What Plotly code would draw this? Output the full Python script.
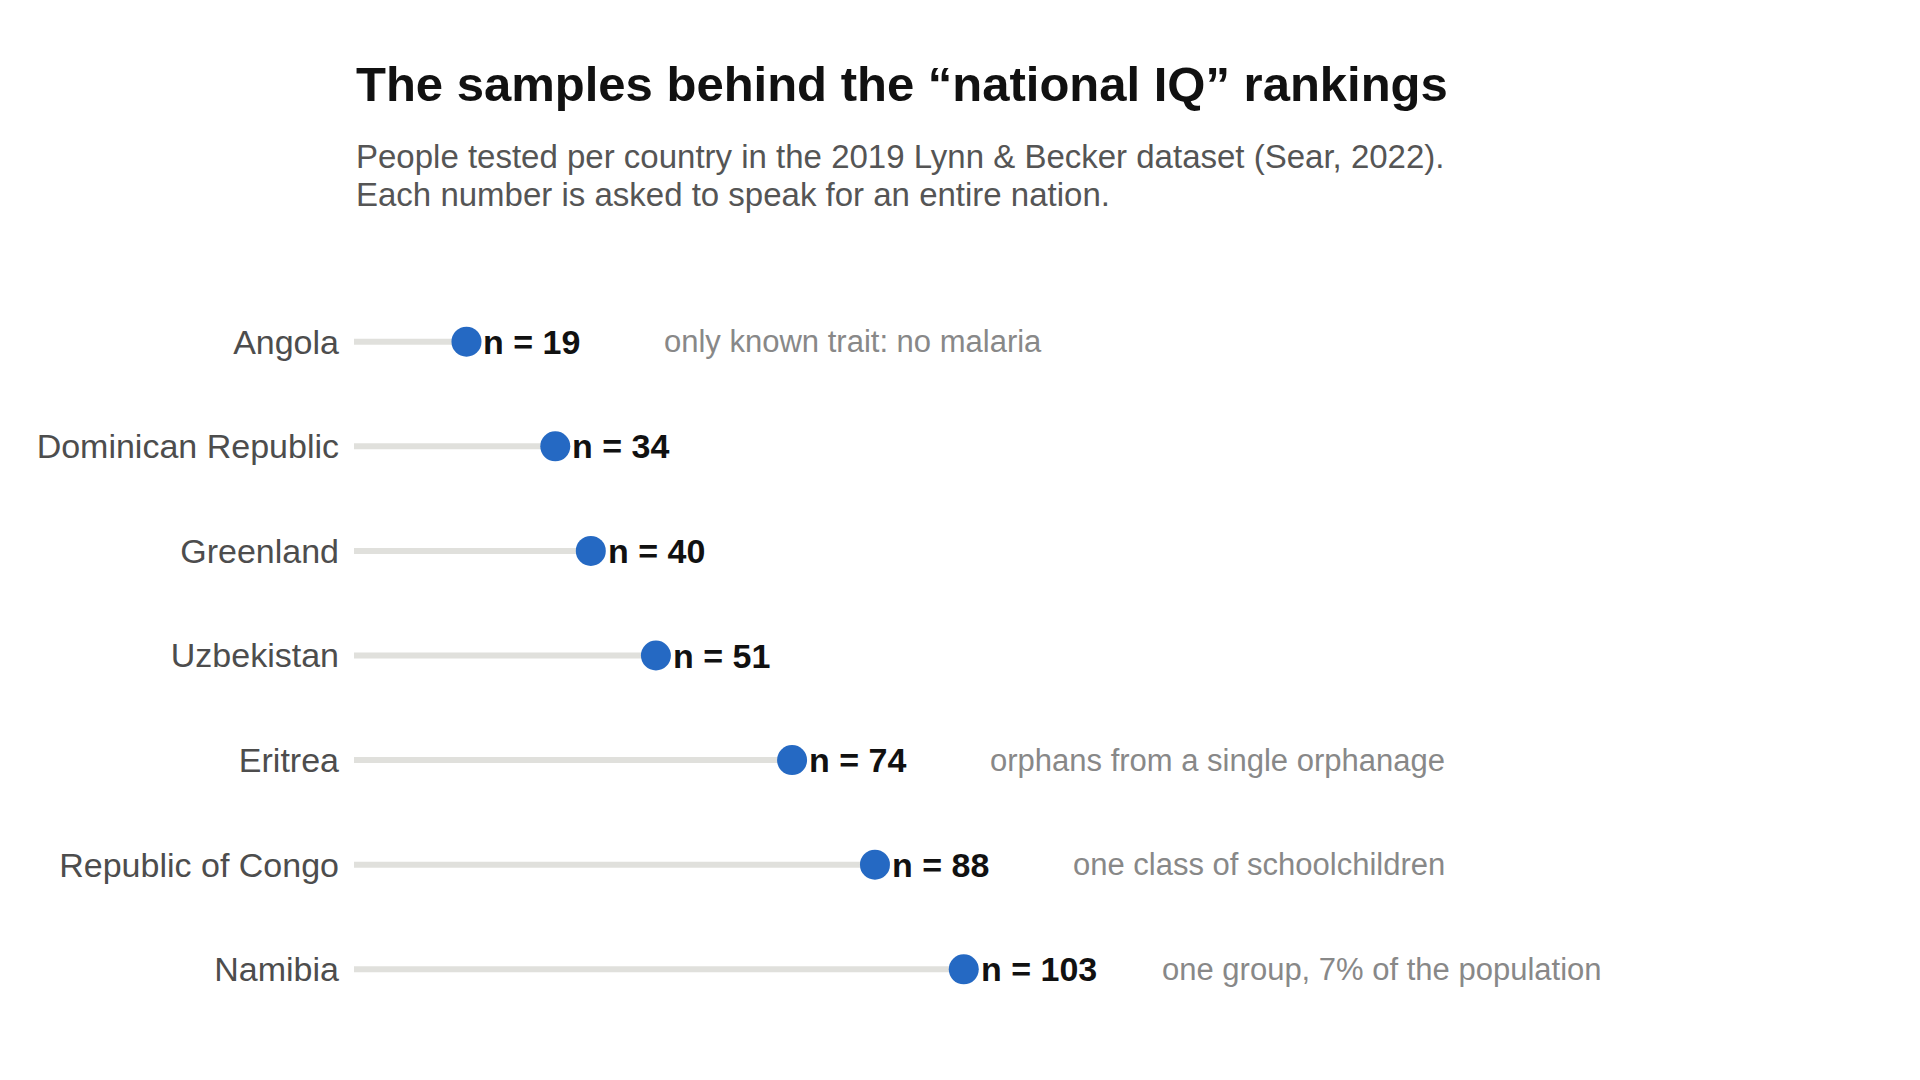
import plotly.graph_objects as go

# --- Datos ---
countries = ["Angola", "Dominican Republic", "Greenland", "Uzbekistan",
             "Eritrea", "Republic of Congo", "Namibia"]
sample_n = [19, 34, 40, 51, 74, 88, 103]
notes = ["only known trait: no malaria", "", "", "",
         "orphans from a single orphanage", "one class of schoolchildren",
         "one group, 7% of the population"]

title_text = "The samples behind the \u201cnational IQ\u201d rankings"
subtitle_lines = ["People tested per country in the 2019 Lynn & Becker dataset (Sear, 2022).",
                  "Each number is asked to speak for an entire nation."]

FONT = "Liberation Sans, Arial, Helvetica, sans-serif"
BLUE = "#2569c3"
TRACK = "#e0e0dc"

fig = go.Figure()

# --- Barras de fondo (0 -> n) ---
lx, ly = [], []
for c, n in zip(countries, sample_n):
    lx += [0, n, None]
    ly += [c, c, None]
fig.add_trace(go.Scatter(
    x=lx, y=ly, mode="lines",
    line=dict(color=TRACK, width=6),
    hoverinfo="skip", showlegend=False
))

# --- Puntos ---
fig.add_trace(go.Scatter(
    x=sample_n, y=countries, mode="markers",
    marker=dict(color=BLUE, size=30, line=dict(width=0)),
    showlegend=False
))

# --- Etiquetas n = ... y notas ---
annotations = []
for c, n, note in zip(countries, sample_n, notes):
    annotations.append(dict(
        x=n, y=c, xref="x", yref="y", text=f"<b>n = {n}</b>",
        showarrow=False, xanchor="left", yanchor="middle", xshift=15,
        font=dict(family=FONT, size=34, color="#111111")
    ))
    if note:
        annotations.append(dict(
            x=n, y=c, xref="x", yref="y", text=note,
            showarrow=False, xanchor="left", yanchor="middle", xshift=196,
            font=dict(family=FONT, size=31, color="#888888")
        ))

# --- Título y subtítulo ---
annotations.append(dict(
    x=0, y=1.274, xref="paper", yref="paper", text=f"<b>{title_text}</b>",
    showarrow=False, xanchor="left", yanchor="middle",
    font=dict(family=FONT, size=49, color="#111111")
))
for line, ypos in zip(subtitle_lines, [1.175, 1.1233]):
    annotations.append(dict(
        x=0, y=ypos, xref="paper", yref="paper", text=line,
        showarrow=False, xanchor="left", yanchor="middle", align="left",
        font=dict(family=FONT, size=33, color="#555555")
    ))

fig.update_layout(
    width=1920, height=1080,
    margin=dict(l=346, r=390, t=278, b=63),
    paper_bgcolor="white", plot_bgcolor="white",
    annotations=annotations,
    xaxis=dict(range=[0, 200], visible=False, fixedrange=True),
    yaxis=dict(
        categoryorder="array", categoryarray=countries,
        autorange="reversed", showgrid=False, zeroline=False,
        showline=False, ticks="", ticklabelstandoff=14,
        tickfont=dict(family=FONT, size=34, color="#4d4d4d")
    ),
    font=dict(family=FONT),
)

fig.write_html("out.html")
